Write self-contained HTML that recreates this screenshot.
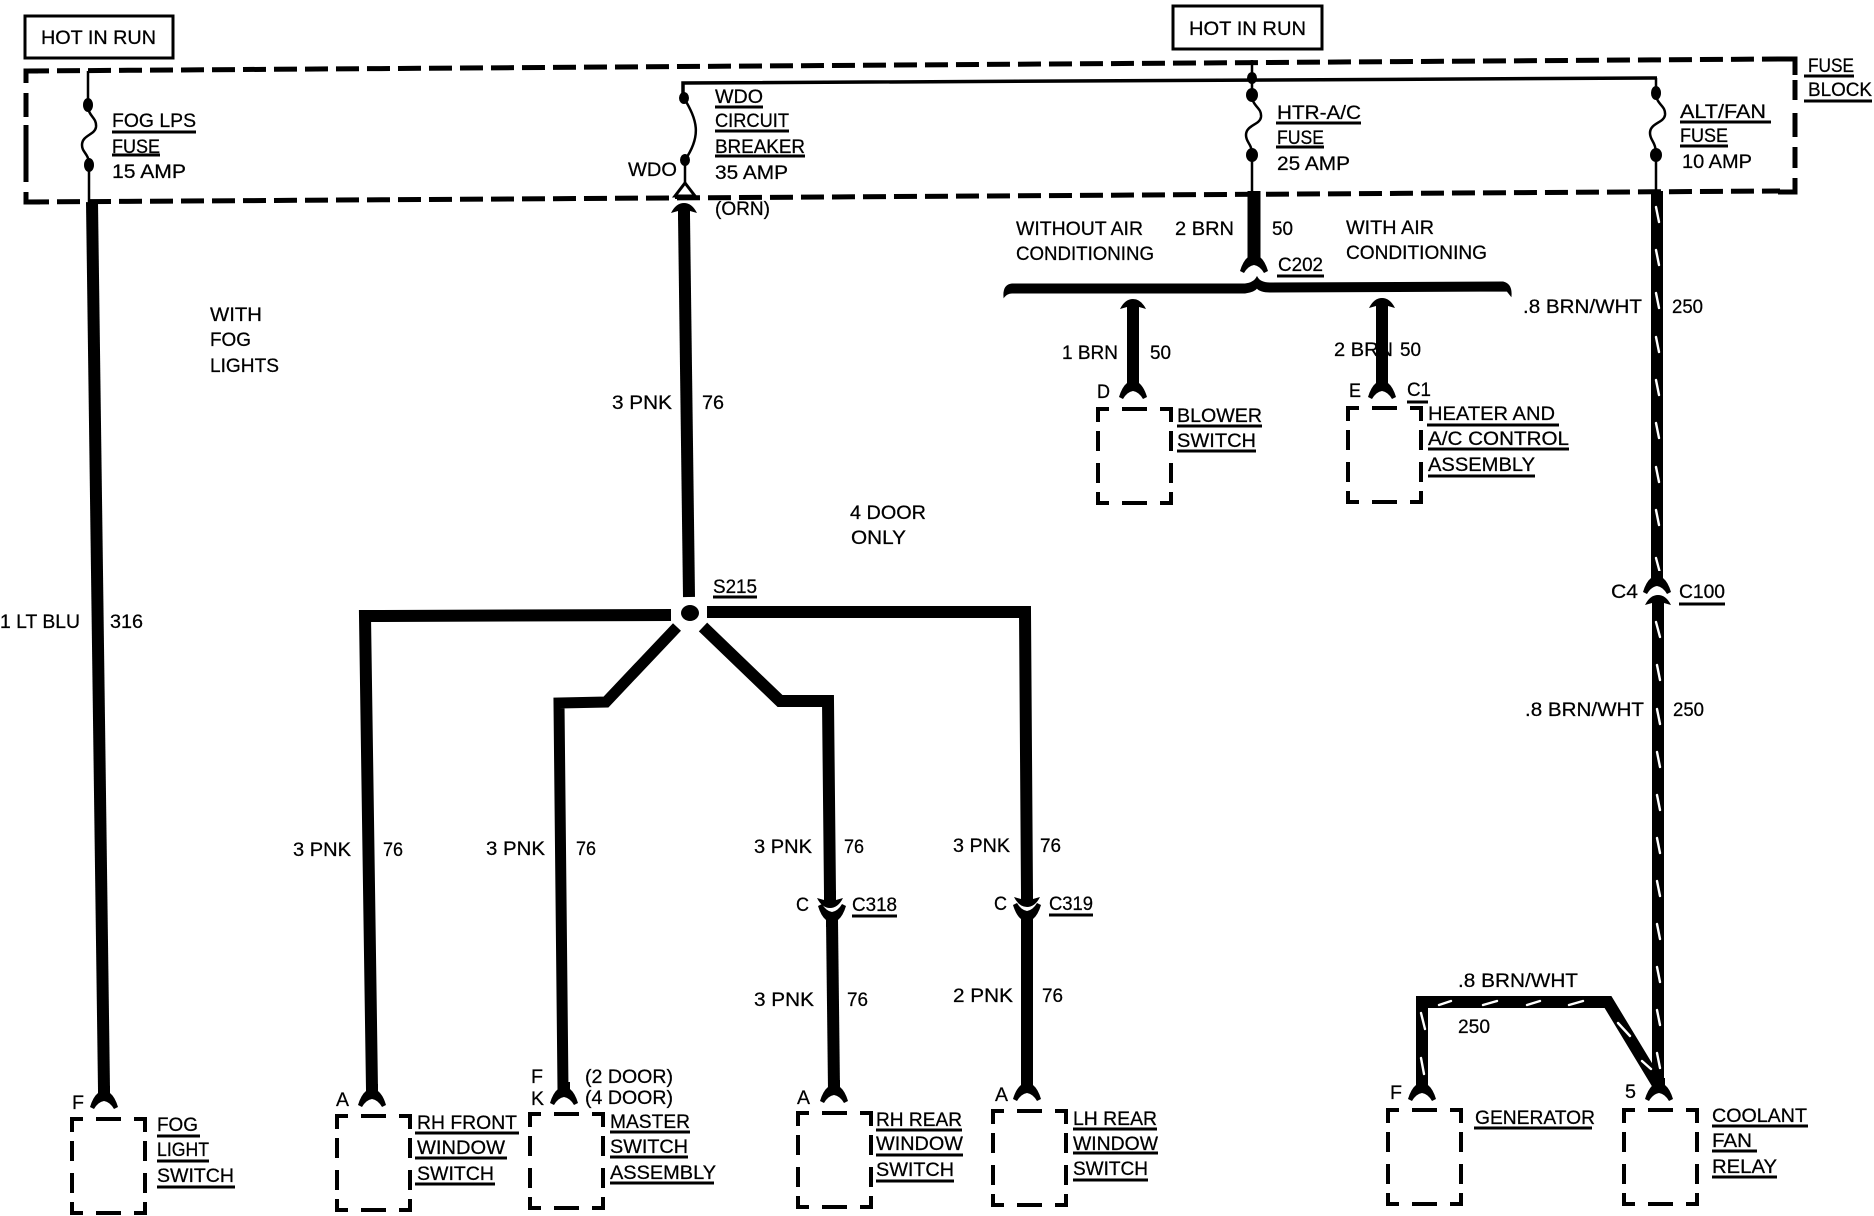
<!DOCTYPE html>
<html><head><meta charset="utf-8"><style>
html,body{margin:0;padding:0;background:#fff;width:1874px;height:1216px;overflow:hidden}
svg{display:block}
text{font-family:"Liberation Sans",sans-serif;font-size:19px;fill:#000;stroke:#000;stroke-width:.25}
</style></head><body>
<svg width="1874" height="1216" viewBox="0 0 1874 1216" xmlns="http://www.w3.org/2000/svg">
<defs>
<path id="cap" d="M-13,10 Q-8,0 0,0 Q8,0 13,10 L6,8 L6,17 L-6,17 L-6,8 Z" fill="#000"/>
<path id="fork" d="M-6,-14 L6,-14 L6,-7 Q11,-3 14,7 L10,9 Q6,2 0,1 Q-6,2 -10,9 L-14,7 Q-11,-3 -6,-7 Z" fill="#000"/>
<g id="box" fill="none" stroke="#000" stroke-width="4">
<path d="M0,13 V0 H11 M24,0 H49 M62,0 H73 V13 M0,22 V42 M0,54 V74 M73,22 V42 M73,54 V74 M0,83 V94 H11 M24,94 H49 M62,94 H73 V83"/>
</g>
</defs>
<rect width="1874" height="1216" fill="#fff"/>

<!-- hot boxes -->
<rect x="25" y="16" width="148" height="42" fill="none" stroke="#000" stroke-width="3"/>
<rect x="1173" y="6" width="149" height="43" fill="none" stroke="#000" stroke-width="3"/>

<!-- fuse block -->
<g fill="none" stroke="#000" stroke-width="5">
<path d="M26,71 L1780,59" stroke-dasharray="23 8"/>
<path d="M26,202 L1780,191" stroke-dasharray="23 8"/>
<path d="M1778,59 H1795 V75 M1795,80 V100 M1795,113 V137 M1795,147 V168 M1795,178 V192 H1778"/>
<path d="M26,83 V71 H38 M26,93 V117 M26,125 V182 M26,192 V202 H40"/>
</g>

<!-- thin fuse wiring -->
<g fill="none" stroke="#000" stroke-width="2.5">
<path d="M88,71 V105 C88,117 97,117 96,127 C95,135 82,135 82,145 C82,153 89,153 89,165 V202"/>
<path d="M1252,60 V95 C1252,107 1262,107 1261,117 C1260,125 1246,125 1246,135 C1246,143 1252,143 1252,155 V191"/>
<path d="M1656,78 V93 C1656,105 1666,105 1665,115 C1664,123 1650,123 1650,133 C1650,141 1656,141 1656,155 V191"/>
<path d="M684,98 C697,120 702,135 685,160 V184"/>
<path d="M675,196 L685,183 L695,196 Z" stroke-width="3" fill="#fff"/>
<path d="M683,98 V83 L1657,78" stroke-width="3.5"/>
</g>
<g fill="#000">
<ellipse cx="88" cy="105" rx="5" ry="7"/><ellipse cx="89" cy="165" rx="5" ry="7"/>
<ellipse cx="684" cy="98" rx="5" ry="6"/><ellipse cx="685" cy="160" rx="5" ry="6"/>
<ellipse cx="1252" cy="78" rx="5" ry="6"/><ellipse cx="1252" cy="95" rx="6" ry="7"/><ellipse cx="1252" cy="155" rx="6" ry="7"/>
<ellipse cx="1656" cy="93" rx="5" ry="7"/><ellipse cx="1656" cy="155" rx="6" ry="7"/>
</g>
<rect x="675" y="196" width="21" height="3" fill="#000"/>

<!-- thick wires -->
<g fill="none" stroke="#000" stroke-width="12" stroke-linejoin="miter">
<path d="M92,202 L104,1090"/>
<path d="M684,215 L689,597"/>
<path d="M671,615 L365,616 L372,1090"/>
<path d="M707,612 L1025,612 L1027,895"/>
<path d="M1027,920 V1090"/>
<path d="M677,627 L606,702 L559,703 L563,1090" stroke-width="11"/>
<path d="M703,627 L780,701 L828,701 L830,895"/>
<path d="M832,920 L834,1090"/>
<path d="M1254,191 V258" stroke-width="13"/>
<path d="M1133,312 V385"/>
<path d="M1382,311 V385"/>
<path d="M1657,191 V575"/>
<path d="M1658,612 V1090"/>
<path d="M1422,1090 V1002 H1608 L1657,1083" stroke-width="12"/>
</g>

<!-- white slashes -->
<g fill="none" stroke="#fff" stroke-width="2.4" stroke-linecap="round">
<path d="M1656,207 l3,15 M1656,250 l3,15 M1656,293 l3,15 M1656,337 l3,15 M1656,380 l3,15 M1656,423 l3,15 M1656,467 l3,15 M1656,510 l3,15 M1656,558 l4,15
M1656,622 l4,15 M1657,665 l3,15 M1657,709 l3,15 M1657,752 l3,15 M1657,795 l3,15 M1657,838 l3,15 M1657,881 l3,15 M1657,924 l3,15 M1657,967 l3,15 M1657,1010 l3,15 M1657,1053 l3,15"/>
<path d="M1421,1013 l4,16 M1421,1058 l3,16"/>
<path d="M1439,1005 L1451,1001 M1483,1005 L1497,1001 M1527,1005 L1540,1001 M1569,1005 L1583,1001"/>
<path d="M1618,1023 L1630,1036 M1642,1061 L1651,1069"/>
</g>

<!-- connector heads -->
<use href="#cap" x="684" y="203"/>
<use href="#cap" x="1133" y="299"/>
<use href="#cap" x="1382" y="298"/>
<use href="#cap" x="1658" y="595"/>
<use href="#fork" x="1657" y="585"/>
<use href="#fork" x="1254" y="264"/>
<use href="#fork" x="1133" y="390"/>
<use href="#fork" x="1382" y="390"/>
<use href="#fork" x="104" y="1100"/>
<use href="#fork" x="372" y="1098"/>
<use href="#fork" x="564" y="1096"/>
<use href="#fork" x="834" y="1094"/>
<use href="#fork" x="1027" y="1092"/>
<use href="#fork" x="1422" y="1092"/>
<use href="#fork" x="1659" y="1092"/>
<g transform="translate(830,908) scale(1,-1)"><use href="#cap"/></g>
<g transform="translate(832,913) scale(1,-1)"><use href="#fork"/></g>
<g transform="translate(1027,907) scale(1,-1)"><use href="#cap"/></g>
<g transform="translate(1027,912) scale(1,-1)"><use href="#fork"/></g>

<!-- splice -->
<circle cx="690" cy="613" r="16" fill="#fff"/>
<ellipse cx="690" cy="613" rx="9" ry="8" fill="#000"/>

<!-- bracket -->
<path d="M1004,297 Q1003,285 1012,284 L1245,284 Q1254,283 1257,277 Q1260,283 1270,283 L1503,282 Q1512,284 1511,296 L1507,291 L1270,292 Q1260,292 1257,288 Q1254,292 1245,293 L1012,293 Q1007,293 1004,297 Z" fill="#000" stroke="#000" stroke-width="1"/>

<!-- boxes -->
<use href="#box" x="72" y="1119"/>
<use href="#box" x="337" y="1116"/>
<use href="#box" x="530" y="1114"/>
<use href="#box" x="798" y="1113"/>
<use href="#box" x="993" y="1111"/>
<use href="#box" x="1388" y="1110"/>
<use href="#box" x="1624" y="1110"/>
<use href="#box" x="1098" y="409"/>
<use href="#box" x="1348" y="408"/>

<!-- underlines -->
<path fill="none" stroke="#000" stroke-width="3" d="
M112,132H196 M112,155H160
M715,107H763 M715,131H789 M715,156H805
M713,597H757
M1276,123H1361 M1276,147H1324
M1680,122H1771 M1680,146H1728
M1804,76H1854 M1804,101H1872
M1277,276H1324
M1177,426H1262 M1177,451H1256
M1427,425H1559 M1428,449H1569 M1428,476H1535
M1407,402H1428
M1679,604H1725
M852,916H897 M1049,915H1093
M157,1136H200 M157,1161H209 M157,1187H235
M415,1133H519 M415,1158H507 M415,1184H495
M610,1132H690 M610,1157H688 M610,1183H714
M876,1130H962 M876,1155H963 M876,1181H954
M1073,1129H1157 M1073,1153H1158 M1073,1180H1148
M1474,1128H1592
M1712,1126H1808 M1712,1151H1757 M1712,1177H1777"/>

<!-- labels -->
<text x="41" y="44" textLength="115" lengthAdjust="spacingAndGlyphs">HOT IN RUN</text>
<text x="1189" y="35" textLength="117" lengthAdjust="spacingAndGlyphs">HOT IN RUN</text>
<text x="1808" y="72" textLength="46" lengthAdjust="spacingAndGlyphs">FUSE</text>
<text x="1808" y="96" textLength="64" lengthAdjust="spacingAndGlyphs">BLOCK</text>

<text x="112" y="127" textLength="84" lengthAdjust="spacingAndGlyphs">FOG LPS</text>
<text x="112" y="153" textLength="48" lengthAdjust="spacingAndGlyphs">FUSE</text>
<text x="112" y="178" textLength="74" lengthAdjust="spacingAndGlyphs">15 AMP</text>

<text x="715" y="103" textLength="48" lengthAdjust="spacingAndGlyphs">WDO</text>
<text x="715" y="127" textLength="74" lengthAdjust="spacingAndGlyphs">CIRCUIT</text>
<text x="715" y="153" textLength="90" lengthAdjust="spacingAndGlyphs">BREAKER</text>
<text x="715" y="179" textLength="73" lengthAdjust="spacingAndGlyphs">35 AMP</text>
<text x="628" y="176" textLength="49" lengthAdjust="spacingAndGlyphs">WDO</text>
<text x="715" y="215" textLength="55" lengthAdjust="spacingAndGlyphs">(ORN)</text>

<text x="1277" y="119" textLength="84" lengthAdjust="spacingAndGlyphs">HTR-A/C</text>
<text x="1277" y="144" textLength="47" lengthAdjust="spacingAndGlyphs">FUSE</text>
<text x="1277" y="170" textLength="73" lengthAdjust="spacingAndGlyphs">25 AMP</text>
<text x="1680" y="118" textLength="86" lengthAdjust="spacingAndGlyphs">ALT/FAN</text>
<text x="1680" y="142" textLength="48" lengthAdjust="spacingAndGlyphs">FUSE</text>
<text x="1682" y="168" textLength="70" lengthAdjust="spacingAndGlyphs">10 AMP</text>

<text x="210" y="321" textLength="52" lengthAdjust="spacingAndGlyphs">WITH</text>
<text x="210" y="346" textLength="41" lengthAdjust="spacingAndGlyphs">FOG</text>
<text x="210" y="372" textLength="69" lengthAdjust="spacingAndGlyphs">LIGHTS</text>
<text x="0" y="628" textLength="80" lengthAdjust="spacingAndGlyphs">1 LT BLU</text>
<text x="110" y="628" textLength="33" lengthAdjust="spacingAndGlyphs">316</text>

<text x="612" y="409" textLength="60" lengthAdjust="spacingAndGlyphs">3 PNK</text>
<text x="702" y="409" textLength="22" lengthAdjust="spacingAndGlyphs">76</text>
<text x="850" y="519" textLength="76" lengthAdjust="spacingAndGlyphs">4 DOOR</text>
<text x="851" y="544" textLength="55" lengthAdjust="spacingAndGlyphs">ONLY</text>
<text x="713" y="593" textLength="44" lengthAdjust="spacingAndGlyphs">S215</text>

<text x="1016" y="235" textLength="127" lengthAdjust="spacingAndGlyphs">WITHOUT AIR</text>
<text x="1016" y="260" textLength="138" lengthAdjust="spacingAndGlyphs">CONDITIONING</text>
<text x="1175" y="235" textLength="59" lengthAdjust="spacingAndGlyphs">2 BRN</text>
<text x="1272" y="235" textLength="21" lengthAdjust="spacingAndGlyphs">50</text>
<text x="1346" y="234" textLength="88" lengthAdjust="spacingAndGlyphs">WITH AIR</text>
<text x="1346" y="259" textLength="141" lengthAdjust="spacingAndGlyphs">CONDITIONING</text>
<text x="1278" y="271" textLength="45" lengthAdjust="spacingAndGlyphs">C202</text>
<text x="1523" y="313" textLength="119" lengthAdjust="spacingAndGlyphs">.8 BRN/WHT</text>
<text x="1672" y="313" textLength="31" lengthAdjust="spacingAndGlyphs">250</text>
<text x="1062" y="359" textLength="56" lengthAdjust="spacingAndGlyphs">1 BRN</text>
<text x="1150" y="359" textLength="21" lengthAdjust="spacingAndGlyphs">50</text>
<text x="1334" y="356" textLength="59" lengthAdjust="spacingAndGlyphs">2 BRN</text>
<text x="1400" y="356" textLength="21" lengthAdjust="spacingAndGlyphs">50</text>
<text x="1097" y="398" textLength="13" lengthAdjust="spacingAndGlyphs">D</text>
<text x="1349" y="397" textLength="12" lengthAdjust="spacingAndGlyphs">E</text>
<text x="1407" y="396" textLength="24" lengthAdjust="spacingAndGlyphs">C1</text>
<text x="1177" y="422" textLength="85" lengthAdjust="spacingAndGlyphs">BLOWER</text>
<text x="1177" y="447" textLength="79" lengthAdjust="spacingAndGlyphs">SWITCH</text>
<text x="1428" y="420" textLength="127" lengthAdjust="spacingAndGlyphs">HEATER AND</text>
<text x="1428" y="445" textLength="141" lengthAdjust="spacingAndGlyphs">A/C CONTROL</text>
<text x="1428" y="471" textLength="107" lengthAdjust="spacingAndGlyphs">ASSEMBLY</text>

<text x="1611" y="598" textLength="27" lengthAdjust="spacingAndGlyphs">C4</text>
<text x="1679" y="598" textLength="46" lengthAdjust="spacingAndGlyphs">C100</text>
<text x="1525" y="716" textLength="119" lengthAdjust="spacingAndGlyphs">.8 BRN/WHT</text>
<text x="1673" y="716" textLength="31" lengthAdjust="spacingAndGlyphs">250</text>

<text x="293" y="856" textLength="58" lengthAdjust="spacingAndGlyphs">3 PNK</text>
<text x="383" y="856" textLength="20" lengthAdjust="spacingAndGlyphs">76</text>
<text x="486" y="855" textLength="59" lengthAdjust="spacingAndGlyphs">3 PNK</text>
<text x="576" y="855" textLength="20" lengthAdjust="spacingAndGlyphs">76</text>
<text x="754" y="853" textLength="58" lengthAdjust="spacingAndGlyphs">3 PNK</text>
<text x="844" y="853" textLength="20" lengthAdjust="spacingAndGlyphs">76</text>
<text x="953" y="852" textLength="57" lengthAdjust="spacingAndGlyphs">3 PNK</text>
<text x="1040" y="852" textLength="21" lengthAdjust="spacingAndGlyphs">76</text>
<text x="796" y="911" textLength="13" lengthAdjust="spacingAndGlyphs">C</text>
<text x="852" y="911" textLength="45" lengthAdjust="spacingAndGlyphs">C318</text>
<text x="994" y="910" textLength="13" lengthAdjust="spacingAndGlyphs">C</text>
<text x="1049" y="910" textLength="44" lengthAdjust="spacingAndGlyphs">C319</text>
<text x="754" y="1006" textLength="60" lengthAdjust="spacingAndGlyphs">3 PNK</text>
<text x="847" y="1006" textLength="21" lengthAdjust="spacingAndGlyphs">76</text>
<text x="953" y="1002" textLength="60" lengthAdjust="spacingAndGlyphs">2 PNK</text>
<text x="1042" y="1002" textLength="21" lengthAdjust="spacingAndGlyphs">76</text>

<text x="1458" y="987" textLength="120" lengthAdjust="spacingAndGlyphs">.8 BRN/WHT</text>
<text x="1458" y="1033" textLength="32" lengthAdjust="spacingAndGlyphs">250</text>

<text x="72" y="1109" textLength="12" lengthAdjust="spacingAndGlyphs">F</text>
<text x="336" y="1106" textLength="13" lengthAdjust="spacingAndGlyphs">A</text>
<text x="531" y="1083" textLength="12" lengthAdjust="spacingAndGlyphs">F</text>
<text x="531" y="1105" textLength="13" lengthAdjust="spacingAndGlyphs">K</text>
<text x="585" y="1083" textLength="88" lengthAdjust="spacingAndGlyphs">(2 DOOR)</text>
<text x="585" y="1104" textLength="88" lengthAdjust="spacingAndGlyphs">(4 DOOR)</text>
<text x="797" y="1104" textLength="13" lengthAdjust="spacingAndGlyphs">A</text>
<text x="995" y="1101" textLength="13" lengthAdjust="spacingAndGlyphs">A</text>
<text x="1390" y="1099" textLength="12" lengthAdjust="spacingAndGlyphs">F</text>
<text x="1625" y="1098" textLength="11" lengthAdjust="spacingAndGlyphs">5</text>

<text x="157" y="1131" textLength="41" lengthAdjust="spacingAndGlyphs">FOG</text>
<text x="157" y="1156" textLength="52" lengthAdjust="spacingAndGlyphs">LIGHT</text>
<text x="157" y="1182" textLength="77" lengthAdjust="spacingAndGlyphs">SWITCH</text>
<text x="417" y="1129" textLength="100" lengthAdjust="spacingAndGlyphs">RH FRONT</text>
<text x="417" y="1154" textLength="88" lengthAdjust="spacingAndGlyphs">WINDOW</text>
<text x="417" y="1180" textLength="77" lengthAdjust="spacingAndGlyphs">SWITCH</text>
<text x="610" y="1128" textLength="80" lengthAdjust="spacingAndGlyphs">MASTER</text>
<text x="610" y="1153" textLength="78" lengthAdjust="spacingAndGlyphs">SWITCH</text>
<text x="610" y="1179" textLength="106" lengthAdjust="spacingAndGlyphs">ASSEMBLY</text>
<text x="876" y="1126" textLength="86" lengthAdjust="spacingAndGlyphs">RH REAR</text>
<text x="876" y="1150" textLength="87" lengthAdjust="spacingAndGlyphs">WINDOW</text>
<text x="876" y="1176" textLength="78" lengthAdjust="spacingAndGlyphs">SWITCH</text>
<text x="1073" y="1125" textLength="84" lengthAdjust="spacingAndGlyphs">LH REAR</text>
<text x="1073" y="1150" textLength="85" lengthAdjust="spacingAndGlyphs">WINDOW</text>
<text x="1073" y="1175" textLength="75" lengthAdjust="spacingAndGlyphs">SWITCH</text>
<text x="1475" y="1124" textLength="120" lengthAdjust="spacingAndGlyphs">GENERATOR</text>
<text x="1712" y="1122" textLength="95" lengthAdjust="spacingAndGlyphs">COOLANT</text>
<text x="1712" y="1147" textLength="40" lengthAdjust="spacingAndGlyphs">FAN</text>
<text x="1712" y="1173" textLength="65" lengthAdjust="spacingAndGlyphs">RELAY</text>
</svg>
</body></html>
